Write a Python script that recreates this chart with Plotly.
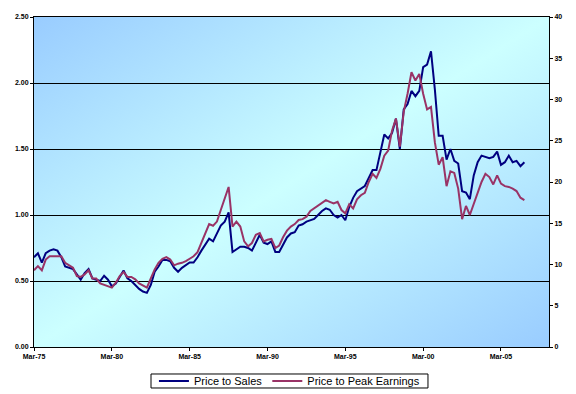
import base64
import pandas as pd
import plotly.graph_objects as go

# Quarterly observations starting Mar-1975
start_date = "1975-03-01"

price_to_sales = [
    0.68, 0.71, 0.64, 0.71, 0.73, 0.74, 0.73, 0.68, 0.61, 0.60,
    0.59, 0.55, 0.51, 0.56, 0.59, 0.52, 0.51, 0.50, 0.54, 0.51,
    0.46, 0.48, 0.53, 0.58, 0.52, 0.50, 0.47, 0.44, 0.42, 0.41,
    0.47, 0.57, 0.61, 0.66, 0.66, 0.65, 0.60, 0.57, 0.60, 0.62,
    0.64, 0.64, 0.68, 0.73, 0.78, 0.82, 0.80, 0.86, 0.92, 0.95,
    1.02, 0.72, 0.74, 0.76, 0.76, 0.75, 0.73, 0.79, 0.85, 0.79,
    0.78, 0.80, 0.72, 0.72, 0.77, 0.83, 0.86, 0.87, 0.92, 0.93,
    0.95, 0.96, 0.97, 1.00, 1.03, 1.05, 1.04, 1.00, 0.98, 1.00,
    0.96, 1.06, 1.13, 1.18, 1.20, 1.22, 1.28, 1.34, 1.34, 1.48,
    1.61, 1.58, 1.62, 1.73, 1.50, 1.80, 1.84, 1.94, 1.90, 1.94,
    2.12, 2.14, 2.24, 1.95, 1.60, 1.60, 1.42, 1.50, 1.41, 1.39,
    1.18, 1.17, 1.12, 1.30, 1.40, 1.45, 1.44, 1.43, 1.44, 1.48,
    1.38, 1.40, 1.45, 1.40, 1.41, 1.37, 1.40,
]

price_to_peak_earnings = [
    9.3, 9.8, 9.3, 10.6, 11.0, 11.0, 11.0, 11.0, 10.2, 9.9,
    9.6, 8.6, 8.5, 8.8, 9.3, 8.3, 8.3, 7.7, 7.5, 7.4,
    7.2, 7.8, 8.6, 9.1, 8.5, 8.5, 8.2, 7.7, 7.4, 7.2,
    8.3, 9.4, 10.2, 10.7, 10.9, 10.6, 9.9, 10.1, 10.2, 10.4,
    10.7, 11.0, 11.5, 12.6, 13.9, 14.9, 14.7, 15.2, 16.6, 17.9,
    19.4, 14.6, 15.2, 14.6, 12.8, 12.2, 12.6, 13.6, 13.8, 12.8,
    13.0, 13.1, 12.0, 12.3, 13.3, 14.1, 14.6, 14.9, 15.4, 15.5,
    15.8, 16.5, 16.8, 17.1, 17.4, 17.8, 17.6, 17.4, 17.6, 16.6,
    16.2, 17.3, 16.8, 17.9, 18.4, 18.7, 20.0, 21.0, 20.5, 21.6,
    23.2, 23.8, 26.2, 27.7, 24.3, 28.5, 30.7, 33.3, 32.3, 33.1,
    30.7, 28.8, 29.1, 24.8, 22.1, 23.0, 19.5, 21.3, 21.1, 19.2,
    15.5, 17.1, 16.0, 17.4, 18.7, 20.0, 21.0, 20.6, 19.7, 20.8,
    19.8, 19.5, 19.4, 19.2, 18.9, 18.1, 17.8,
]

tick_dates = ["1975-03-01", "1980-03-01", "1985-03-01", "1990-03-01",
              "1995-03-01", "2000-03-01", "2005-03-01"]
tick_labels = ["Mar-75", "Mar-80", "Mar-85", "Mar-90", "Mar-95", "Mar-00", "Mar-05"]

dates = pd.date_range(start_date, periods=len(price_to_sales), freq="3MS")

svg = ('<svg xmlns="http://www.w3.org/2000/svg" width="100" height="100" '
       'viewBox="0 0 100 100" preserveAspectRatio="none"><defs>'
       '<linearGradient id="g" x1="0" y1="0" x2="1" y2="1">'
       '<stop offset="0" stop-color="#99CCFF"/>'
       '<stop offset="0.5" stop-color="#CCFFFF"/>'
       '<stop offset="1" stop-color="#99CCFF"/>'
       '</linearGradient></defs>'
       '<rect x="0" y="0" width="100" height="100" fill="url(#g)"/></svg>')
svg_uri = "data:image/svg+xml;base64," + base64.b64encode(svg.encode()).decode()

fig = go.Figure()
fig.add_trace(go.Scatter(
    x=dates, y=price_to_sales, name="Price to Sales", mode="lines",
    line=dict(color="#000080", width=2), yaxis="y"))
fig.add_trace(go.Scatter(
    x=dates, y=price_to_peak_earnings, name="Price to Peak Earnings", mode="lines",
    line=dict(color="#993366", width=2), yaxis="y2"))

tick_font = dict(family="Arial, Liberation Sans", size=7, color="black", weight="bold")

# legend frame (plot area spans 34..549 px horizontally, 17..347 px vertically)
fig.add_shape(type="rect", xref="paper", yref="paper",
              x0=0.2272, x1=0.765, y0=-0.0818, y1=-0.1242,
              line=dict(color="black", width=1), fillcolor="white", layer="below")

fig.update_layout(
    width=576, height=394,
    margin=dict(l=34, r=27, t=17, b=47, autoexpand=False),
    paper_bgcolor="white",
    plot_bgcolor="rgba(0,0,0,0)",
    showlegend=True,
    legend=dict(
        orientation="h", x=0.496, xanchor="center", y=-0.103, yanchor="middle",
        borderwidth=0, bgcolor="rgba(0,0,0,0)",
        font=dict(family="Arial, Liberation Sans", size=11, color="black"),
        itemwidth=30, tracegroupgap=0,
    ),
    images=[dict(source=svg_uri, xref="paper", yref="paper", x=0, y=1,
                 sizex=1, sizey=1, xanchor="left", yanchor="top",
                 sizing="stretch", layer="below")],
    xaxis=dict(
        type="date", range=["1975-03-01", "2008-04-01"],
        tickvals=tick_dates, ticktext=tick_labels,
        ticks="outside", ticklen=3, tickcolor="black",
        showline=True, linecolor="black", linewidth=1, mirror=True,
        showgrid=False, zeroline=False, tickfont=tick_font,
    ),
    yaxis=dict(
        range=[0, 2.5], dtick=0.5, tickformat=".2f",
        ticks="outside", ticklen=3, tickcolor="black",
        showline=True, linecolor="black", linewidth=1,
        showgrid=True, gridcolor="black", gridwidth=1,
        zeroline=False, tickfont=tick_font,
    ),
    yaxis2=dict(
        range=[0, 40], dtick=5, overlaying="y", side="right",
        ticks="outside", ticklen=3, tickcolor="black",
        showline=True, linecolor="black", linewidth=1,
        showgrid=False, zeroline=False, tickfont=tick_font,
    ),
)

fig.write_html("out.html", config={"displayModeBar": False},
               post_script="document.body.style.margin='0px';")
